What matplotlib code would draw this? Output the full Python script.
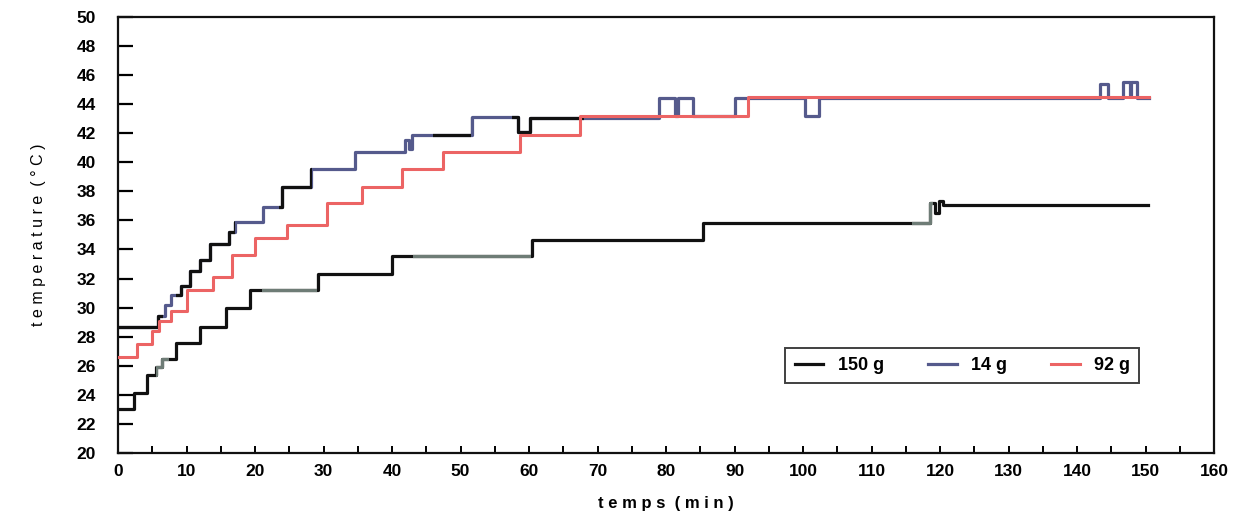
import matplotlib

matplotlib.use("Agg")

import matplotlib.pyplot as plt
from matplotlib.patches import Rectangle
from matplotlib.ticker import MultipleLocator

# temps (min) / temperature (°C), step-wise readings
t_150 = [0, 2.3, 4.2, 5.6, 6.4, 8.5, 12.0, 15.8, 19.3, 29.2, 40.0, 60.4,
         85.4, 118.5, 119.2, 119.8, 120.4, 150.4]
y_150 = [23.0, 24.1, 25.4, 25.9, 26.5, 27.6, 28.65, 30.0, 31.2, 32.3, 33.55,
         34.65, 35.85, 37.2, 36.5, 37.3, 37.05, 37.05]

t_14 = [0, 5.8, 6.8, 7.8, 9.2, 10.5, 12.0, 13.4, 16.2, 17.0, 21.2, 24.0,
        28.2, 34.6, 41.9, 42.5, 42.9, 51.6, 58.4, 60.2, 78.9, 81.3, 81.8,
        84.0, 90.1, 100.3, 102.4, 143.4, 144.5, 146.7, 147.7, 147.9, 148.8,
        150.5]
y_14 = [28.7, 29.4, 30.2, 30.9, 31.5, 32.5, 33.3, 34.4, 35.2, 35.9, 36.9,
        38.3, 39.5, 40.7, 41.5, 40.9, 41.9, 43.1, 42.1, 43.05, 44.4, 43.15,
        44.4, 43.15, 44.4, 43.2, 44.4, 45.4, 44.4, 45.5, 44.6, 45.5, 44.4,
        44.4]

t_92 = [0, 2.8, 5.0, 6.0, 7.8, 10.0, 13.8, 16.6, 20.0, 24.6, 30.5, 35.6,
        41.5, 47.4, 58.7, 67.4, 92.0, 150.5]
y_92 = [26.6, 27.5, 28.4, 29.1, 29.8, 31.2, 32.1, 33.6, 34.8, 35.7, 37.2,
        38.3, 39.5, 40.7, 41.85, 43.15, 44.45, 44.45]

# time windows where the scanned original shows a different ink tone
dark_windows_14 = [(0, 6.5), (8.5, 17.0), (23.5, 28.3), (46.0, 51.5),
                   (57.5, 68.0)]
grey_windows_150 = [(5.6, 7.5), (21.0, 29.0), (43.0, 60.3), (115.9, 119.0)]

plt.rcParams["font.family"] = ["Liberation Sans", "DejaVu Sans"]

fig = plt.figure(figsize=(12.44, 5.19), dpi=100)
ax = fig.add_axes([0.0949, 0.127, 0.881, 0.8407])

BLACK = "#111111"
l14, = ax.step(t_14, y_14, where="post", color="#555a8c", linewidth=2.3,
               zorder=2, label="14 g")
l92, = ax.step(t_92, y_92, where="post", color="#ec6464", linewidth=2.2,
               zorder=3, label="92 g")
l150, = ax.step(t_150, y_150, where="post", color=BLACK, linewidth=2.3,
                zorder=4, label="150 g")


def overlay(t, y, windows, color, z):
    for t0, t1 in windows:
        line, = ax.step(t, y, where="post", color=color, linewidth=2.3,
                        zorder=z)
        line.set_clip_path(Rectangle((t0, 20), t1 - t0, 30,
                                     transform=ax.transData))


overlay(t_14, y_14, dark_windows_14, BLACK, 2.5)
overlay(t_150, y_150, grey_windows_150, "#6e7c76", 4.5)

ax.set_xlim(0, 160)
ax.set_ylim(20, 50)
ax.xaxis.set_major_locator(MultipleLocator(10))
ax.xaxis.set_minor_locator(MultipleLocator(5))
ax.yaxis.set_major_locator(MultipleLocator(2))
ax.tick_params(axis="y", which="major", direction="in", length=11, width=1.6,
               pad=16, labelsize=12.5)
ax.tick_params(axis="x", which="both", direction="in", length=5, width=1.4,
               pad=8, labelsize=12.5)
for lab in ax.get_xticklabels() + ax.get_yticklabels():
    lab.set_fontweight("bold")
for sp in ax.spines.values():
    sp.set_linewidth(1.6)
    sp.set_color(BLACK)

ax.set_xlabel("t e m p s  ( m i n )", fontsize=12, fontweight="bold",
              labelpad=12)
ax.set_ylabel("t e m p e r a t u r e  ( ° C )", fontsize=11.5, labelpad=22)

leg = ax.legend(handles=[l150, l14, l92], ncol=3, loc="lower left",
                bbox_to_anchor=(0.609, 0.160, 0.323, 0.09), mode="expand",
                borderaxespad=0, frameon=True, fancybox=False,
                handlelength=1.6, handletextpad=0.8, borderpad=0.5,
                columnspacing=2.0, prop={"weight": "bold", "size": 13})
leg.get_frame().set_edgecolor(BLACK)
leg.get_frame().set_linewidth(1.4)

fig.savefig("out.png", dpi=100)
